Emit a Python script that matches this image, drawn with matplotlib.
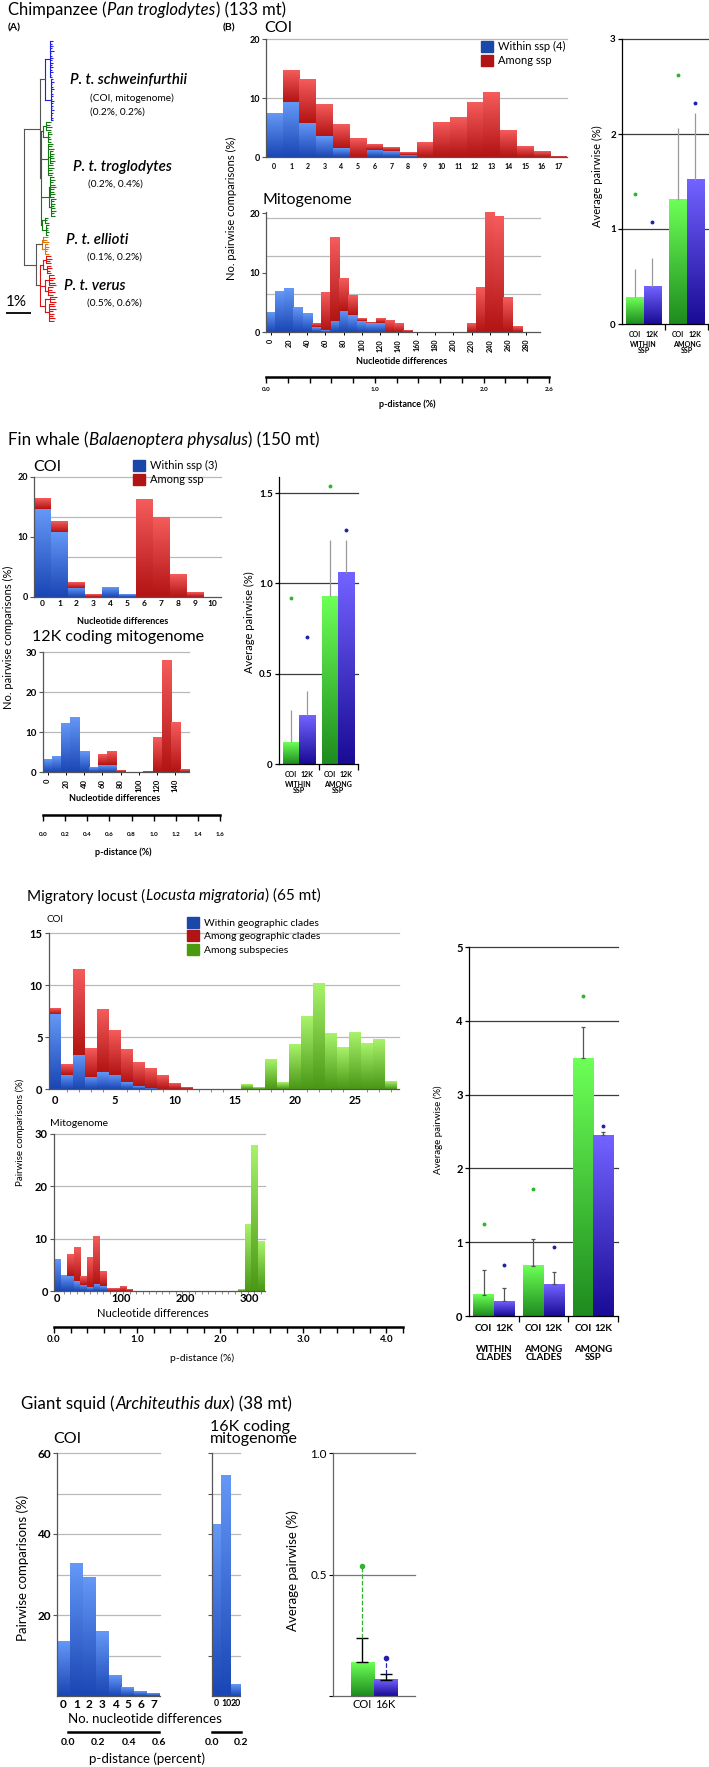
import numpy as np
import matplotlib
matplotlib.use('Agg')
import matplotlib.pyplot as plt
from matplotlib.colors import LinearSegmentedColormap
from matplotlib.patches import Patch

plt.rcParams['font.family'] = ['Lato', 'DejaVu Sans']
plt.rcParams['axes.linewidth'] = 0.9

W, H = 709, 1767

# ---------------- chimpanzee ----------------
chimp_coi_bins = [0, 1, 2, 3, 4, 5, 6, 7, 8, 9, 10, 11, 12, 13, 14, 15, 16, 17]
chimp_coi_within = [7.3, 9.3, 5.8, 3.5, 1.5, 0, 1.2, 1.0, 0.3, 0, 0, 0, 0, 0, 0, 0, 0, 0]
chimp_coi_among = [0, 5.4, 7.4, 5.3, 4.0, 3.2, 1.0, 0.6, 0.5, 2.4, 5.8, 6.7, 9.3, 10.9, 4.5, 1.8, 1.0, 0.15]

chimp_mito_within = [3.2, 6.9, 7.3, 4.2, 3.05, 0.8, 0.3, 1.9, 3.6, 2.8, 1.8, 1.5, 1.5, 0, 0,
                     0, 0, 0, 0, 0, 0, 0, 0, 0, 0, 0, 0, 0, 0, 0]
chimp_mito_among = [0, 0, 0, 0, 0, 0.55, 6.3, 14.1, 5.5, 3.2, 0.5, 0.1, 0.7, 2.0, 1.5,
                    0.25, 0, 0, 0, 0, 0, 0, 1.4, 7.5, 20.4, 19.4, 5.8, 0.85, 0, 0]
chimp_mito_labels = ['0', '20', '40', '60', '80', '100', '120', '140', '160', '180',
                     '200', '220', '240', '260', '280']
chimp_mito_grid = [6.4, 12.8, 19.2]

chimp_groups = ['WITHIN\nSSP', 'AMONG\nSSP']
chimp_coi_mean = [0.28, 1.31]
chimp_12k_mean = [0.39, 1.52]
chimp_coi_err = [0.58, 2.06]
chimp_12k_err = [0.69, 2.22]
chimp_coi_max = [1.37, 2.62]
chimp_12k_max = [1.07, 2.33]

# phylogeny: (branch length %, children[, colour]); leaves are branch lengths
tree_blue = (0.20, [
    (0.20, [0.10, 0.06, 0.12, 0.08, 0.14, 0.05, 0.09, 0.11, 0.07, 0.13, 0.06, 0.10, 0.08, 0.12, 0.05, 0.09]),
    (0.22, [0.08, 0.12, 0.06, 0.10, 0.14, 0.07, 0.11, 0.09, 0.05, 0.12, 0.08, 0.10, 0.06, 0.13, 0.09, 0.07, 0.11, 0.08]),
], '#1f1fe6')
tree_green = (0.02, [
    (0.10, [(0.12, [0.20, 0.15, 0.22, 0.18]), (0.20, [0.10, 0.14, 0.08, 0.12, 0.10])]),
    (0.28, [0.22, 0.18, 0.25, (0.10, [0.12, 0.16, 0.10, 0.14, 0.18, 0.12]), 0.20, 0.24, 0.16, 0.21, 0.19]),
    (0.32, [(0.06, [0.15, 0.20, 0.12, 0.18, 0.22, 0.16, 0.14, 0.19, 0.17]),
            (0.08, [0.20, 0.14, 0.18, 0.12, 0.16, 0.21, 0.13, 0.17])]),
    (0.05, [(0.12, [0.14, 0.10, 0.16]), (0.15, [0.12, 0.08, 0.10, 0.14, 0.11])]),
], '#137a13')
tree_orange = (0.24, [(0.04, [0.20, 0.16, 0.22]), (0.10, [0.12, 0.18, 0.14, 0.10, 0.16])], '#e07810')
tree_red = (0.16, [
    (0.12, [(0.10, [0.20, 0.24, 0.18, 0.22]), (0.16, [0.14, 0.20, 0.12, 0.17])]),
    (0.20, [(0.14, [0.20, 0.26, 0.18, 0.24, 0.30]), (0.10, [0.22, 0.16, 0.28, 0.20])]),
    (0.18, [(0.20, [0.30, 0.22, 0.26]), (0.16, [0.20, 0.24, 0.28, 0.18, 0.22, 0.16, 0.26, 0.20])]),
], '#dd1212')
tree = (0.0, [(0.64, [tree_blue, tree_green]), (0.48, [tree_orange, tree_red])])

# ---------------- fin whale ----------------
fin_coi_bins = [0, 1, 2, 3, 4, 5, 6, 7, 8, 9, 10]
fin_coi_within = [14.6, 10.9, 1.55, 0, 1.55, 0.5, 0, 0, 0, 0, 0]
fin_coi_among = [1.7, 1.8, 0.85, 0.45, 0, 0, 16.2, 13.2, 3.8, 0.8, 0]
fin_mito_within = [3.1, 3.9, 12.25, 13.6, 5.25, 1.2, 1.7, 1.7, 0, 0, 0, 0, 0, 0, 0, 0]
fin_mito_among = [0, 0, 0, 0, 0, 0, 2.7, 3.3, 0.4, 0, 0, 0.15, 8.75, 27.8, 12.5, 0.6]
fin_mito_labels = ['0', '20', '40', '60', '80', '100', '120', '140']

fin_groups = ['WITHIN\nSSP', 'AMONG\nSSP']
fin_coi_mean = [0.12, 0.93]
fin_12k_mean = [0.27, 1.06]
fin_coi_err = [0.30, 1.24]
fin_12k_err = [0.405, 1.24]
fin_coi_max = [0.92, 1.54]
fin_12k_max = [0.705, 1.295]

# ---------------- migratory locust ----------------
loc_coi_within = [7.2, 1.37, 3.3, 1.2, 1.6, 1.37, 0.67, 0.25, 0.06, 0, 0, 0, 0, 0, 0,
                  0, 0, 0, 0, 0, 0, 0, 0, 0, 0, 0, 0, 0, 0]
loc_coi_among = [0.5, 1.03, 8.2, 2.7, 6.05, 4.3, 3.09, 2.3, 1.84, 1.3, 0.57, 0.1, 0, 0, 0,
                 0, 0, 0, 0, 0, 0, 0, 0, 0, 0, 0, 0, 0, 0]
loc_coi_subsp = [0, 0, 0, 0, 0, 0, 0, 0, 0, 0, 0, 0, 0, 0, 0,
                 0, 0.45, 0.1, 2.8, 0.64, 4.3, 6.94, 10.1, 5.35, 4.0, 5.4, 4.4, 4.8, 0.73]
loc_coi_ticks = [0, 5, 10, 15, 20, 25]

loc_mito_within = [6.0, 2.9, 2.9, 1.85, 1.2, 0.75, 1.3, 0.95, 0, 0, 0, 0, 0, 0, 0, 0,
                   0, 0, 0, 0, 0, 0, 0, 0, 0, 0, 0, 0, 0, 0, 0, 0]
loc_mito_among = [0, 0, 4.2, 6.35, 1.7, 5.55, 9.0, 2.8, 0.4, 0.4, 0.95, 0.3, 0, 0, 0, 0,
                  0, 0, 0, 0, 0, 0, 0, 0, 0, 0, 0, 0, 0, 0, 0, 0]
loc_mito_subsp = [0, 0, 0, 0, 0, 0, 0, 0, 0, 0, 0, 0, 0, 0, 0, 0,
                  0, 0, 0, 0, 0, 0, 0, 0, 0, 0, 0, 0, 0.3, 12.7, 27.8, 9.55]
loc_mito_ticks = [0, 100, 200, 300]
loc_mito_binwidth = 10.25

loc_groups = ['WITHIN\nCLADES', 'AMONG\nCLADES', 'AMONG\nSSP']
loc_coi_mean = [0.29, 0.68, 3.49]
loc_12k_mean = [0.20, 0.43, 2.45]
loc_coi_err = [0.62, 1.05, 3.91]
loc_12k_err = [0.38, 0.60, 2.50]
loc_coi_max = [1.24, 1.72, 4.33]
loc_12k_max = [0.69, 0.93, 2.57]

# ---------------- giant squid ----------------
squid_coi_bins = [0, 1, 2, 3, 4, 5, 6, 7]
squid_coi = [13.4, 32.6, 29.3, 15.9, 5.0, 2.2, 1.2, 0.6]
squid_mito_bins = ['0', '10', '20']
squid_mito = [42.3, 54.5, 2.8]
squid_markers = ['COI', '16K']
squid_mean = [0.138, 0.067]
squid_err = [0.24, 0.092]
squid_max = [0.536, 0.157]

BLUE = ('#6497f6', '#1a47b5')
RED = ('#f45b5b', '#b31414')
LGREEN = ('#a8f26a', '#4a9816')
GREEN = ('#6cff56', '#1f8c1f')
PURPLE = ('#7262ff', '#1a0c96')

fig = plt.figure(figsize=(W / 100, H / 100), dpi=100)


def px_axes(x0, y0, x1, y1):
    ax = fig.add_axes([x0 / W, 1 - y1 / H, (x1 - x0) / W, (y1 - y0) / H])
    ax.patch.set_visible(False)
    return ax


def ftext(x, y, s, **kw):
    kw.setdefault('va', 'center')
    return fig.text(x / W, 1 - y / H, s, **kw)


def rich(x, y, parts, size):
    r = fig.canvas.get_renderer()
    for s, style in parts:
        t = ftext(x, y, s, fontsize=size, style=style)
        x += t.get_window_extent(r).width + 0.5


def grad_bars(ax, bars, top, bottom):
    cmap = LinearSegmentedColormap.from_list('g', [bottom, top])
    for r in bars:
        h = r.get_height()
        if h <= 0:
            continue
        x, y, w = r.get_x(), r.get_y(), r.get_width()
        ax.imshow(np.linspace(0, 1, 40).reshape(-1, 1), extent=(x, x + w, y, y + h),
                  origin='lower', aspect='auto', cmap=cmap, vmin=0, vmax=1,
                  interpolation='bilinear', zorder=2)


def bold(ax):
    for t in ax.get_xticklabels() + ax.get_yticklabels():
        t.set_fontweight('bold')


def hist_ax(box, yticks, grid, ysize, xsize, xpad, ypad=1.5):
    ax = px_axes(*box)
    for s in ('top', 'right'):
        ax.spines[s].set_visible(False)
    for s in ('left', 'bottom'):
        ax.spines[s].set_color('#555555')
    for g in grid:
        ax.axhline(g, color='#b9b9b9', lw=0.9, zorder=0.5, clip_on=False)
    ax.set_yticks(yticks)
    ax.tick_params(axis='y', length=3, width=0.8, pad=ypad, labelsize=ysize, color='#555555')
    ax.tick_params(axis='x', length=0, pad=xpad, labelsize=xsize)
    return ax


def stacked(ax, layers):
    x = np.arange(len(layers[0][0]))
    base = np.zeros(len(x))
    for vals, col, stack in layers:
        b = ax.bar(x, vals, 1.0, bottom=base if stack else 0, color='none')
        grad_bars(ax, b, *col)
        if stack:
            base = base + np.array(vals)
    return x


def p_axis(x0, x1, y, xmax, ticks, labels, size, pad, ends_only=False):
    ax = px_axes(x0, y - 8, x1, y)
    for s in ('top', 'left', 'right'):
        ax.spines[s].set_visible(False)
    ax.spines['bottom'].set_linewidth(1.8)
    ax.set_xlim(0, xmax)
    ax.set_yticks([])
    ax.set_xticks(ticks, labels)
    if ends_only:
        ax.set_xticks([0, xmax], minor=True)
        ax.tick_params(axis='x', which='minor', length=5, width=1.5)
        ax.tick_params(axis='x', which='major', length=0, pad=pad + 3, labelsize=size)
    else:
        ax.tick_params(axis='x', length=4, width=1, pad=pad, labelsize=size)
    bold(ax)
    return ax


def avg_ax(box, groups, coi, k12, coi_err, k12_err, coi_max, k12_max, ylim, yticks, ylabels,
           grid, ysize, xsize, gsize, xpad, goff, ecol, cap):
    ax = px_axes(*box)
    for s in ('top', 'right'):
        ax.spines[s].set_visible(False)
    for g in grid:
        ax.axhline(g, color='#3c3c3c', lw=0.9, zorder=0.5, clip_on=False)
    x = np.arange(len(groups))
    b1 = ax.bar(x - 0.205, coi, 0.41, color='none')
    b2 = ax.bar(x + 0.205, k12, 0.41, color='none')
    grad_bars(ax, b1, *GREEN)
    grad_bars(ax, b2, *PURPLE)
    for xs, m, e in ((x - 0.205, coi, coi_err), (x + 0.205, k12, k12_err)):
        ax.errorbar(xs, m, yerr=[np.zeros(len(m)), np.array(e) - np.array(m)], fmt='none',
                    ecolor=ecol, elinewidth=0.9, capsize=cap, capthick=0.9, zorder=3)
    ax.plot(x - 0.205, coi_max, 'o', ms=1.8, color='#2fb52f', zorder=4)
    ax.plot(x + 0.205, k12_max, 'o', ms=1.8, color='#2222a8', zorder=4)
    pos, labs = [], []
    for xi in x:
        pos += [xi - 0.205, xi + 0.205]
        labs += ['COI', '12K']
    ax.set_xticks(pos, labs)
    ax.set_xticks(np.arange(len(groups)) + 0.5, minor=True)
    ax.set_yticks(yticks, ylabels)
    ax.tick_params(axis='x', which='major', length=0, pad=xpad, labelsize=xsize)
    ax.tick_params(axis='x', which='minor', length=4, width=0.9)
    ax.tick_params(axis='y', length=3, width=0.9, pad=1.5, labelsize=ysize)
    bold(ax)
    for xi, g in zip(x, groups):
        ax.annotate(g, xy=(xi, 0), xycoords=('data', 'axes fraction'), xytext=(0, goff),
                    textcoords='offset points', ha='center', va='top', fontsize=gsize,
                    fontweight='bold', linespacing=0.85)
    ax.set_xlim(-0.5, len(groups) - 0.5)
    ax.set_ylim(*ylim)
    return ax


def draw_tree(ax, node, x0, color, counter):
    if isinstance(node, (int, float)):
        y = counter[0]
        counter[0] += 1
        ax.plot([x0, x0 + node], [y, y], color=color, lw=0.8, solid_capstyle='butt')
        return y
    c = node[2] if len(node) > 2 else color
    x1 = x0 + node[0]
    ys = [draw_tree(ax, ch, x1, c, counter) for ch in node[1]]
    ax.plot([x1, x1], [min(ys), max(ys)], color=c, lw=0.8)
    y = (min(ys) + max(ys)) / 2
    if node[0] > 0:
        ax.plot([x0, x1], [y, y], color=color, lw=0.8)
    return y


# =============== Chimpanzee ===============
rich(8, 10, [('Chimpanzee (', 'normal'), ('Pan troglodytes', 'italic'), (') (133 mt)', 'normal')], 12)
ftext(8, 28, '(A)', fontsize=7.5, fontweight='bold')
ftext(223, 28, '(B)', fontsize=7.5, fontweight='bold')

ax = px_axes(4, 40, 74, 322)
counter = [0]
draw_tree(ax, tree, 0.0, '#555555', counter)
ax.set_xlim(-0.8, 2.0)
ax.set_ylim(counter[0] - 0.5, -0.5)
ax.axis('off')
ftext(6, 302, '1%', fontsize=11)
ax_sb = px_axes(6, 312, 31, 314)
ax_sb.plot([0, 1], [0, 0], color='black', lw=1.3)
ax_sb.set_xlim(0, 1)
ax_sb.axis('off')

tree_labels = [
    (70, 80, 'P. t. schweinfurthii', 10.8, 'italic'),
    (90, 98, '(COI, mitogenome)', 7.3, 'normal'),
    (90, 112, '(0.2%, 0.2%)', 7.3, 'normal'),
    (73, 167, 'P. t. troglodytes', 10.8, 'italic'),
    (88, 184, '(0.2%, 0.4%)', 7.3, 'normal'),
    (66, 240, 'P. t. ellioti', 10.8, 'italic'),
    (87, 257, '(0.1%, 0.2%)', 7.3, 'normal'),
    (64, 286, 'P. t. verus', 10.8, 'italic'),
    (87, 303, '(0.5%, 0.6%)', 7.3, 'normal'),
]
for tx, ty, s, fs, st in tree_labels:
    ftext(tx, ty, s, fontsize=fs, style=st, fontweight='semibold' if st == 'italic' else 'normal')

# COI histogram
ftext(264, 28, 'COI', fontsize=11.5)
ax = hist_ax((266, 39, 567, 157), [0, 10, 20], [10, 20], 6.5, 5, 4)
x = stacked(ax, [(chimp_coi_within, BLUE, True), (chimp_coi_among, RED, True)])
ax.set_xticks(x, [str(v) for v in chimp_coi_bins])
bold(ax)
ax.set_xlim(-0.5, len(x) - 0.5)
ax.set_ylim(0, 20)
ax.legend(handles=[Patch(color='#1a48a8', label='Within ssp (4)'), Patch(color='#b01414', label='Among ssp')],
          loc='upper left', bbox_to_anchor=(481 / W, 1 - 41 / H), bbox_transform=fig.transFigure,
          frameon=False, fontsize=8, handlelength=1.1, handleheight=1.1, handletextpad=0.4,
          labelspacing=0.25, borderpad=0, borderaxespad=0)

# mitogenome histogram
ftext(262, 200, 'Mitogenome', fontsize=11.5)
ax = hist_ax((266, 212, 540, 332), [0, 10, 20], chimp_mito_grid, 6.5, 5.2, 3)
x = stacked(ax, [(chimp_mito_within, BLUE, True), (chimp_mito_among, RED, True)])
ax.set_xticks(x[::2], chimp_mito_labels, rotation=90)
ax.tick_params(axis='x', length=2, width=0.7)
bold(ax)
ax.set_xlim(-0.5, len(x) - 0.5)
ax.set_ylim(0, 20.2)
ftext(402, 362, 'Nucleotide differences', fontsize=6.5, fontweight='bold', ha='center')
ftext(231, 208, 'No. pairwise comparisons (%)', fontsize=8, rotation=90, ha='center')

p_axis(266, 549, 377, 2.6, np.arange(0, 2.61, 0.2),
       ['0.0', '', '', '', '', '1.0', '', '', '', '', '2.0', '', '', '2.6'], 4.5, 3)
ftext(407, 404, 'p-distance (%)', fontsize=6.5, fontweight='bold', ha='center')

avg_ax((622, 39, 708, 324), chimp_groups, chimp_coi_mean, chimp_12k_mean, chimp_coi_err,
       chimp_12k_err, chimp_coi_max, chimp_12k_max, (0, 3), [0, 1, 2, 3], ['0', '1', '2', '3'],
       [1, 2, 3], 7, 5, 5, 5, -12.5, '#999999', 0)
ftext(597, 176, 'Average pairwise (%)', fontsize=8, rotation=90, ha='center')

# =============== Fin whale ===============
rich(8, 440, [('Fin whale (', 'normal'), ('Balaenoptera physalus', 'italic'), (') (150 mt)', 'normal')], 12.2)
ftext(33, 467, 'COI', fontsize=11.5)
ax = hist_ax((34, 477, 221, 597), [0, 10, 20], [20 / 3, 40 / 3, 20], 6.5, 6, 2.5)
x = stacked(ax, [(fin_coi_within, BLUE, True), (fin_coi_among, RED, True)])
ax.set_xticks(x, [str(v) for v in fin_coi_bins])
bold(ax)
ax.set_xlim(-0.5, len(x) - 0.5)
ax.set_ylim(0, 20)
ax.legend(handles=[Patch(color='#1a48a8', label='Within ssp (3)'), Patch(color='#b01414', label='Among ssp')],
          loc='upper left', bbox_to_anchor=(133 / W, 1 - 460 / H), bbox_transform=fig.transFigure,
          frameon=False, fontsize=8, handlelength=1.1, handleheight=1.1, handletextpad=0.4,
          labelspacing=0.25, borderpad=0, borderaxespad=0)
ftext(123, 621, 'Nucleotide differences', fontsize=6.5, fontweight='bold', ha='center')

ftext(118, 637, '12K coding mitogenome', fontsize=11.5, ha='center')
ax = hist_ax((43, 652, 189, 772), [0, 10, 20, 30], [10, 20, 30], 7, 5.5, 3)
x = stacked(ax, [(fin_mito_within, BLUE, True), (fin_mito_among, RED, True)])
ax.set_xticks(x[::2], fin_mito_labels, rotation=90)
ax.tick_params(axis='x', length=2, width=0.7)
bold(ax)
ax.set_xlim(-0.5, len(x) - 0.5)
ax.set_ylim(0, 30)
ftext(115, 798, 'Nucleotide differences', fontsize=6.5, fontweight='bold', ha='center')
ftext(8, 637, 'No. pairwise comparisons (%)', fontsize=8, rotation=90, ha='center')

p_axis(43, 220, 815, 1.6, np.arange(0, 1.61, 0.2),
       ['0.0', '0.2', '0.4', '0.6', '0.8', '1.0', '1.2', '1.4', '1.6'], 4.5, 8)
ftext(123, 852, 'p-distance (%)', fontsize=6.5, fontweight='bold', ha='center')

avg_ax((279, 477, 358, 764), fin_groups, fin_coi_mean, fin_12k_mean, fin_coi_err,
       fin_12k_err, fin_coi_max, fin_12k_max, (0, 1.59), [0, 0.5, 1.0, 1.5], ['0', '0.5', '1.0', '1.5'],
       [0.5, 1.0, 1.5], 7, 5, 5, 5, -12.5, '#999999', 0)
ftext(249, 622, 'Average pairwise (%)', fontsize=8, rotation=90, ha='center')

# =============== Migratory locust ===============
rich(27, 896, [('Migratory locust (', 'normal'), ('Locusta migratoria', 'italic'), (') (65 mt)', 'normal')], 11)
ftext(47, 919, 'COI', fontsize=7)
ax = hist_ax((49, 933, 399, 1089), [0, 5, 10, 15], [5, 10, 15], 8, 8, 4)
x = stacked(ax, [(loc_coi_within, BLUE, True), (loc_coi_among, RED, True), (loc_coi_subsp, LGREEN, False)])
ax.set_xticks(loc_coi_ticks, [str(v) for v in loc_coi_ticks])
ax.set_xticks(x, minor=True)
ax.tick_params(axis='x', which='minor', length=2, width=0.6, color='#777777')
bold(ax)
ax.set_xlim(-0.5, 28.67)
ax.set_ylim(0, 15)
ax.legend(handles=[Patch(color='#1a48a8', label='Within geographic clades'),
                   Patch(color='#b01414', label='Among geographic clades'),
                   Patch(color='#4a9a10', label='Among subspecies')],
          loc='upper left', bbox_to_anchor=(187 / W, 1 - 917 / H), bbox_transform=fig.transFigure,
          frameon=False, fontsize=7.5, handlelength=1.2, handleheight=1.2, handletextpad=0.4,
          labelspacing=0.25, borderpad=0, borderaxespad=0)

ftext(50, 1123, 'Mitogenome', fontsize=7.5)
ax = hist_ax((54, 1134, 265, 1291), [0, 10, 20, 30], [10, 20, 30], 8, 8, 1.5)
x = stacked(ax, [(loc_mito_within, BLUE, True), (loc_mito_among, RED, True), (loc_mito_subsp, LGREEN, False)])
ax.set_xticks(np.array(loc_mito_ticks) / loc_mito_binwidth, [str(v) for v in loc_mito_ticks])
ax.set_xticks(x, minor=True)
ax.tick_params(axis='x', which='minor', length=2, width=0.6, color='#777777')
bold(ax)
ax.set_xlim(-0.5, 31.6)
ax.set_ylim(0, 30)
ftext(153, 1313, 'Nucleotide differences', fontsize=8, ha='center')
ftext(20, 1132, 'Pairwise comparisons (%)', fontsize=7, rotation=90, ha='center')

loc_p_ticks = np.arange(0, 4.21, 0.2)
p_axis(54, 403, 1327, 4.2, loc_p_ticks,
       [f'{v:.1f}' if abs(v - round(v)) < 1e-9 else '' for v in loc_p_ticks], 7, 2)
ftext(202, 1358, 'p-distance (%)', fontsize=7.5, ha='center')

avg_ax((469, 947, 618, 1316), loc_groups, loc_coi_mean, loc_12k_mean, loc_coi_err,
       loc_12k_err, loc_coi_max, loc_12k_max, (0, 5), [0, 1, 2, 3, 4, 5], ['0', '1', '2', '3', '4', '5'],
       [1, 2, 3, 4, 5], 8, 7, 7, 6, -21, '#555555', 1.2)
ftext(438, 1130, 'Average pairwise (%)', fontsize=7, rotation=90, ha='center')

# =============== Giant squid ===============
rich(21, 1404, [('Giant squid (', 'normal'), ('Architeuthis dux', 'italic'), (') (38 mt)', 'normal')], 12.2)
ftext(53, 1439, 'COI', fontsize=11.5)
ftext(210, 1433, '16K coding\nmitogenome', fontsize=11.5, linespacing=0.8)

ax = hist_ax((57, 1453, 160, 1696), [20, 40, 60], [10, 20, 30, 40, 50, 60], 8.5, 8.5, 2)
x = np.arange(len(squid_coi))
b = ax.bar(x, squid_coi, 1.0, color='none')
grad_bars(ax, b, *BLUE)
ax.set_xticks(x, [str(v) for v in squid_coi_bins])
bold(ax)
ax.set_xlim(-0.5, len(x) - 0.5)
ax.set_ylim(0, 60)

ax = hist_ax((212, 1453, 240, 1696), [10, 20, 30, 40, 50, 60], [10, 20, 30, 40, 50, 60], 8.5, 6.3, 2.5)
ax.tick_params(axis='y', labelleft=False)
x = np.arange(len(squid_mito))
b = ax.bar(x, squid_mito, 1.0, color='none')
grad_bars(ax, b, *BLUE)
ax.set_xticks(x, squid_mito_bins)
bold(ax)
ax.set_xlim(-0.5, len(x) - 0.5)
ax.set_ylim(0, 60)

ftext(145, 1719, 'No. nucleotide differences', fontsize=9.5, ha='center')
ftext(23, 1568, 'Pairwise comparisons (%)', fontsize=9.5, rotation=90, ha='center')
p_axis(68, 159, 1732, 0.6, [0.0, 0.2, 0.4, 0.6], ['0.0', '0.2', '0.4', '0.6'], 7.5, 1, ends_only=True)
p_axis(212, 241, 1732, 0.2, [0.0, 0.2], ['0.0', '0.2'], 7.5, 1, ends_only=True)
ftext(147, 1759, 'p-distance (percent)', fontsize=9.5, ha='center')

ax = px_axes(333, 1453, 415, 1696)
for s in ('top', 'right'):
    ax.spines[s].set_visible(False)
for s in ('left', 'bottom'):
    ax.spines[s].set_color('#666666')
for g in [0.5, 1.0]:
    ax.axhline(g, color='#777777', lw=0.9, zorder=0.5, clip_on=False)
x = np.arange(len(squid_mean))
b = ax.bar(x, squid_mean, 1.0, color='none')
grad_bars(ax, [b[0]], *GREEN)
grad_bars(ax, [b[1]], *PURPLE)
ax.errorbar(x, squid_mean, yerr=[np.zeros(2), np.array(squid_err) - np.array(squid_mean)],
            fmt='none', ecolor='black', elinewidth=1, capsize=4, capthick=1, zorder=3)
for xi, e, m, c in zip(x, squid_err, squid_max, ['#2fb52f', '#2222a8']):
    ax.plot([xi, xi], [e, m], ls='--', color=c, lw=0.9, zorder=3)
    ax.plot([xi], [m], 'o', ms=3, color=c, zorder=4)
ax.set_xticks(x, squid_markers)
ax.set_yticks([0, 0.5, 1.0], ['', '0.5', '1.0'])
ax.tick_params(axis='x', length=0, pad=2, labelsize=8)
ax.tick_params(axis='y', length=3, pad=1.5, labelsize=8.5)
ax.set_xlim(-1.28, 2.28)
ax.set_ylim(0, 1.0)
ftext(293, 1571, 'Average pairwise (%)', fontsize=9.5, rotation=90, ha='center')

fig.savefig('out.png', dpi=100)
